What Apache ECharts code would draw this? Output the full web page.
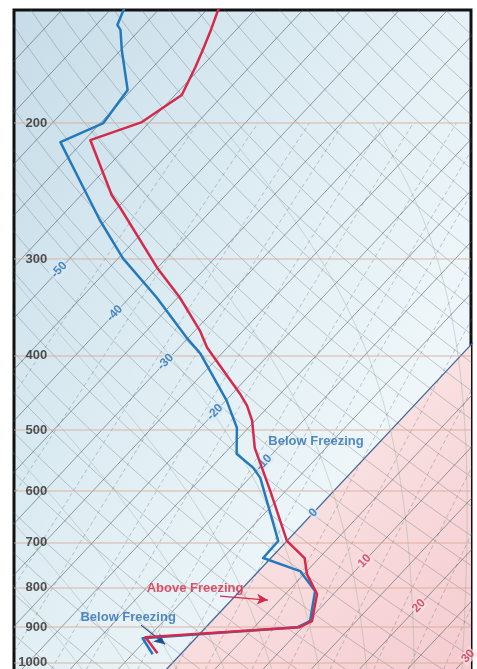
<!DOCTYPE html>
<html lang="en">
<head>
<meta charset="UTF-8">
<title>Skew-T sounding</title>
<script src="https://cdn.jsdelivr.net/npm/echarts@6/dist/echarts.min.js"></script>
</head>
<body style="margin:0;background:#fff;overflow:hidden">
<!-- the chart runs a few px past the window so the frame has no bottom edge -->
<div id="main" style="width:477px;height:674px"></div>
<script>
// temperature profile (red): pressure hPa, temperature °C
var tempP = [142, 152.3, 160.8, 169.2, 183.9, 199.4, 210.4, 248.1, 257.1, 307.7, 336.6, 371.5, 390.9, 448.6, 464.9, 486.3, 527.2, 599.5, 696.2, 732.6, 768.5, 815.9, 884.5, 900.5, 927.9, 973.4];
var tempT = [-58.9, -57.5, -56.5, -55.6, -54.3, -55.8, -59.4, -51.8, -49.8, -40.1, -34.8, -29.5, -27.1, -19.2, -17.3, -15.3, -12.4, -6.6, 0.0, 3.5, 5.3, 8.3, 10.4, 9.7, -5.3, -2.5];
// dewpoint profile (blue)
var dewP = [142, 149.2, 151.4, 160.8, 181.2, 200, 211.7, 251.8, 267.3, 299.5, 336.6, 379.4, 398.0, 458.0, 496.6, 536.7, 559.7, 576.7, 696.2, 732.6, 761.7, 808.6, 884.5, 900.5, 930.7, 976.3];
var dewT = [-68.7, -67.8, -67.0, -64.9, -60.4, -59.7, -62.3, -53.6, -50.6, -44.5, -37.2, -30.2, -27.2, -19.9, -16.2, -13.7, -10.6, -8.9, -0.9, -0.8, 4.3, 7.8, 10.2, 9.5, -5.5, -2.9];

// axis labels
var pressureTicks = [200, 300, 400, 500, 600, 700, 800, 900, 1000];
var tempLabels = [-50, -40, -30, -20, -10, 0, 10, 20, 30];
var tempLabelP = [310, 353, 408, 474, 551, 640, 739, 845, 982];

// chart furniture
var isotherms = [];
for (var t = -80; t <= 35; t += 5) isotherms.push(t);
var dryThetas = [];
for (var th = 245; th <= 425; th += 5) dryThetas.push(th);
var moistTw = [-10, -5, 0, 5, 10, 15, 20, 25, 30, 35];
var mixRatios = [0.2, 0.4, 0.7, 1, 1.5, 2, 3, 4, 5, 7, 9, 12, 16, 20, 25, 30];

var K = 32.6;              // skew, °C per unit ln p
var xMin = -16.5, xMax = 30.9;
var pTop = 142.7, pBot = 1035.6;

function skewX(T, p) { return T + K * Math.log(1000 / p); }

var series = [];
function addLine(pts, style, z) {
    series.push({
        type: 'line', data: pts, symbol: 'none', silent: true, clip: true,
        lineStyle: style, z: z, animation: false
    });
}

// pink "above freezing" region right of 0°C isotherm
var pEdge = 1000 * Math.exp(-xMax / K);
series.push({
    type: 'custom', clip: true, silent: true, z: 1, animation: false,
    data: [[0, 500]],
    renderItem: function (params, api) {
        var poly = [[skewX(0, pBot), pBot], [xMax, pEdge], [xMax, pBot]];
        return {
            type: 'polygon',
            shape: { points: poly.map(function (d) { return api.coord(d); }) },
            style: {
                fill: new echarts.graphic.LinearGradient(0, 0, 1, 1, [
                    { offset: 0, color: '#fcecec' },
                    { offset: 0.5, color: '#f9dfe0' },
                    { offset: 1, color: '#f5cbcf' }
                ])
            }
        };
    }
});

// isobars
series.push({
    type: 'line', data: [], silent: true, z: 2,
    markLine: {
        silent: true, symbol: 'none', animation: false,
        label: { show: false },
        lineStyle: { color: 'rgba(215,170,150,0.55)', width: 1.5, type: 'solid' },
        data: pressureTicks.map(function (p) { return { yAxis: p }; })
    }
});

// dry adiabats
dryThetas.forEach(function (th) {
    var pts = [];
    for (var p = 1040; p >= 140; p -= 10) {
        pts.push([skewX(th * Math.pow(p / 1000, 0.2857) - 273.15, p), p]);
    }
    addLine(pts, { color: 'rgba(90,100,112,0.32)', width: 1 }, 2);
});

// moist adiabats
function dTdp(T, p) {
    var Rd = 287.04, cp = 1005.7, L = 2.501e6, eps = 0.622;
    var tc = T - 273.15;
    var es = 6.112 * Math.exp(17.67 * tc / (tc + 243.5));
    var rs = eps * es / (p - es);
    return (Rd * T + L * rs) / (cp + L * L * rs * eps / (Rd * T * T)) / p;
}
moistTw.forEach(function (tw) {
    var T = tw + 273.15, p = 1000, h = 2;
    while (p < 1040) { T += dTdp(T, p) * h; p += h; }
    var pts = [];
    while (p >= 200) {
        pts.push([skewX(T - 273.15, p), p]);
        var k1 = dTdp(T, p);
        var k2 = dTdp(T - k1 * h / 2, p - h / 2);
        T -= k2 * h; p -= h;
    }
    addLine(pts, { color: 'rgba(120,160,130,0.32)', width: 1 }, 2);
});

// mixing ratio lines
mixRatios.forEach(function (w) {
    var pts = [];
    for (var p = 1040; p >= 200; p -= 20) {
        var es = (w / 1000) * p / (0.622 + w / 1000);
        var lr = Math.log(es / 6.112);
        pts.push([skewX(243.5 * lr / (17.67 - lr), p), p]);
    }
    addLine(pts, { color: 'rgba(90,100,112,0.34)', width: 1, type: [4, 3] }, 2);
});

// isotherms
isotherms.forEach(function (t) {
    var pts = [[skewX(t, pBot), pBot], [skewX(t, pTop), pTop]];
    if (t === 0) addLine(pts, { color: '#44669a', width: 1.3 }, 3);
    else addLine(pts, { color: 'rgba(70,80,92,0.55)', width: 1 }, 3);
});

// pressure labels
series.push({
    type: 'scatter', symbolSize: 0, silent: true, z: 6, animation: false,
    data: pressureTicks.map(function (p) { return [-12.95, p]; }),
    label: {
        show: true, position: 'left', distance: 1,
        formatter: function (d) { return String(d.value[1]); },
        color: '#2a2a2a', fontFamily: 'Liberation Sans, Arial, sans-serif',
        fontWeight: 'bold', fontSize: 13
    }
});

// temperature labels on isotherms
series.push({
    type: 'scatter', symbolSize: 0, silent: true, z: 6, animation: false,
    data: tempLabels.map(function (t, i) {
        var warm = t > 0;
        return {
            value: [skewX(t, tempLabelP[i]), tempLabelP[i]],
            label: {
                color: warm ? '#d32f4f' : '#2a6db5',
                backgroundColor: warm ? 'rgba(250,226,228,0.9)' : 'rgba(218,235,242,0.9)'
            }
        };
    }),
    label: {
        show: true, position: 'inside', rotate: 47, padding: [0, 1],
        formatter: function (d) { return String(tempLabels[d.dataIndex]); },
        fontFamily: 'Liberation Sans, Arial, sans-serif',
        fontWeight: 'bold', fontSize: 12
    }
});

// dewpoint and temperature traces
series.push({
    type: 'line', symbol: 'none', silent: true, z: 8, animation: false,
    data: dewT.map(function (t, i) { return [skewX(t, dewP[i]), dewP[i]]; }),
    lineStyle: { color: '#2479bd', width: 2.5, join: 'round' }
});
series.push({
    type: 'line', symbol: 'none', silent: true, z: 9, animation: false,
    data: tempT.map(function (t, i) { return [skewX(t, tempP[i]), tempP[i]]; }),
    lineStyle: { color: '#d42a4c', width: 2.5, join: 'round' }
});

// annotations
var annText = [
    { name: 'Above Freezing', pos: [2.28, 801], color: '#d42a4c' },
    { name: 'Below Freezing', pos: [-4.66, 874], color: '#2a6db5' },
    { name: 'Below Freezing', pos: [14.82, 518], color: '#2a6db5' }
];
series.push({
    type: 'scatter', symbolSize: 0, silent: true, z: 10, animation: false,
    data: annText.map(function (a) {
        return { value: a.pos, name: a.name, label: { color: a.color } };
    }),
    label: {
        show: true, position: 'inside', formatter: '{b}',
        fontFamily: 'Liberation Sans, Arial, sans-serif', fontWeight: 'bold', fontSize: 13
    },
    markLine: {
        silent: true, animation: false, symbol: ['none', 'arrow'], symbolSize: [8, 11],
        label: { show: false },
        data: [
            [{ coord: [4.87, 820.6], lineStyle: { color: '#d42a4c', width: 1.2, type: 'solid' } },
             { coord: [9.84, 830.5] }],
            [{ coord: [-3.32, 895], lineStyle: { color: '#1f4f8f', width: 1.2, type: 'solid' } },
             { coord: [-0.83, 947.6] }]
        ]
    }
});

var myChart = echarts.init(document.getElementById('main'));
var option = {
    animation: false,
    grid: {
        left: 14, right: 6, top: 10, bottom: 0, show: true,
        borderColor: '#111', borderWidth: 3,
        backgroundColor: new echarts.graphic.LinearGradient(0, 0, 1, 0.4, [
            { offset: 0, color: '#c6dce8' },
            { offset: 0.6, color: '#e0eef4' },
            { offset: 1, color: '#eef6f9' }
        ])
    },
    xAxis: { type: 'value', min: xMin, max: xMax, show: false },
    yAxis: { type: 'log', logBase: 10, min: pTop, max: pBot, inverse: true, show: false },
    series: series
};
myChart.setOption(option);
</script>
</body>
</html>
